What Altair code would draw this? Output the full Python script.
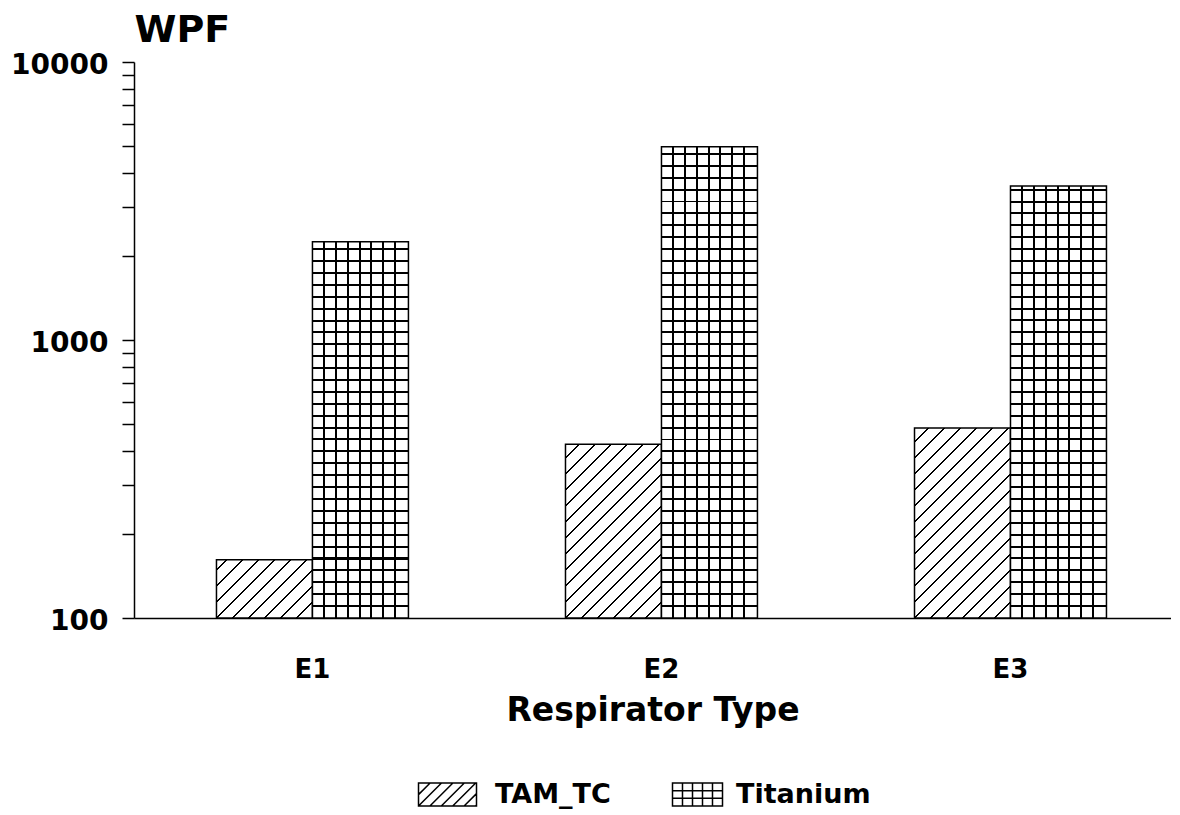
import math
import altair as alt
import pandas as pd

# ---------------- data ----------------
categories = ["E1", "E2", "E3"]
series_names = ["TAM_TC", "Titanium"]
tam_tc = [162, 422, 482]
titanium = [2257, 4958, 3581]
y_ticks = [100, 200, 300, 400, 500, 600, 700, 800, 900,
           1000, 2000, 3000, 4000, 5000, 6000, 7000, 8000, 9000, 10000]
y_labels = [100, 1000, 10000]

rows = []
for c, a, b in zip(categories, tam_tc, titanium):
    rows.append({"type": c, "series": "TAM_TC", "wpf": a})
    rows.append({"type": c, "series": "Titanium", "wpf": b})
df = pd.DataFrame(rows)

# ---------------- layout / style ----------------
FONT = "DejaVu Sans"
W, H = 1037, 556
Y_MIN, Y_MAX = 100, 10000
P_IN, P_OUT, ALIGN = 0.45, 0.2106, 0.561
step = W / (len(categories) - P_IN + 2 * P_OUT)
bar_w = step * (1 - P_IN) / 2


def bar_h(v):
    return H * math.log10(v / Y_MIN) / math.log10(Y_MAX / Y_MIN)


def stripe_stops(positions, half, fg, bg):
    stops = [{"offset": 0, "color": bg}]
    for p in sorted(positions):
        a = max(0.0, p - half)
        b = min(1.0, p + half)
        stops += [{"offset": a, "color": bg}, {"offset": a, "color": fg},
                  {"offset": b, "color": fg}, {"offset": b, "color": bg}]
    stops.append({"offset": 1, "color": bg})
    return stops


def diag_gradient(h, w=bar_w, spacing=16.0, lw=1.6):
    total = w + h
    pos = []
    for j in range(-100, 100):
        s = h + j * spacing
        if 0 < s < total:
            pos.append(s / total)
    c = total * w / (w * w + h * h)
    half = (lw * math.sqrt(2) / 2) / total
    return {"gradient": "linear", "x1": 0, "y1": 0, "x2": c, "y2": c * h / w,
            "stops": stripe_stops(pos, half, "black", "white")}


def vert_gradient(w=bar_w, spacing=11.8, lw=2.0):
    pos = []
    k = 1
    while k * spacing < w - 2:
        pos.append(k * spacing / w)
        k += 1
    return {"gradient": "linear", "x1": 0, "y1": 0, "x2": 1, "y2": 0,
            "stops": stripe_stops(pos, (lw / 2) / w, "black", "white")}


def horiz_gradient(h, spacing=11.9, lw=2.0):
    pos = []
    k = 1
    while k * spacing < h - 2:
        pos.append(1 - k * spacing / h)
        k += 1
    return {"gradient": "linear", "x1": 0, "y1": 0, "x2": 0, "y2": 1,
            "stops": stripe_stops(pos, (lw / 2) / h, "black", "transparent")}


# legend swatch paths (unit = 12 px)
SY = 11.5 / 12


def rect_path(xl, xr):
    return f"M{xl:.3f},{-SY:.3f}H{xr:.3f}V{SY:.3f}H{xl:.3f}Z"


def diag_path(xl=-28 / 12, xr=30 / 12, d=0.95):
    parts = [rect_path(xl, xr)]
    y0, y1 = -SY, SY
    base = xl + y1
    for j in range(-20, 20):
        s = base + j * d
        xa = max(xl, s - y1)
        xb = min(xr, s - y0)
        if xb - xa > 0.05:
            parts.append(f"M{xa:.3f},{s - xa:.3f}L{xb:.3f},{s - xb:.3f}")
    return "".join(parts)


def grid_path(xl=-15 / 12, xr=35 / 12, nx=5, ny=3):
    parts = [rect_path(xl, xr)]
    for i in range(1, nx):
        x = xl + i * (xr - xl) / nx
        parts.append(f"M{x:.3f},{-SY:.3f}V{SY:.3f}")
    for i in range(1, ny):
        y = -SY + i * 2 * SY / ny
        parts.append(f"M{xl:.3f},{y:.3f}H{xr:.3f}")
    return "".join(parts)


label_test = " || ".join(f"datum.value == {v}" for v in y_labels)

x_enc = alt.X(
    "type:N",
    scale=alt.Scale(domain=categories, paddingInner=P_IN, paddingOuter=P_OUT, align=ALIGN),
    axis=alt.Axis(
        title="Respirator Type", labelAngle=0, ticks=False,
        domainColor="black", domainWidth=1.5,
        labelFont=FONT, labelFontSize=26, labelFontWeight="bold", labelColor="black",
        labelPadding=38, labelBaseline="top",
        titleFont=FONT, titleFontSize=33, titleFontWeight="bold", titleColor="black",
        titlePadding=12,
    ),
)
xoff_enc = alt.XOffset("series:N", scale=alt.Scale(domain=series_names, paddingInner=0, paddingOuter=0))
y_enc = alt.Y(
    "wpf:Q",
    scale=alt.Scale(type="log", domain=[Y_MIN, Y_MAX]),
    axis=alt.Axis(
        values=y_ticks,
        labelExpr=f"({label_test}) ? format(datum.value, 'd') : ''",
        labelOverlap=False, labelFlush=False,
        grid=False, tickSize=12, tickWidth=1.5, tickColor="black",
        domainColor="black", domainWidth=1.5,
        labelFont=FONT, labelFontSize=28, labelFontWeight="bold", labelColor="black",
        labelPadding=14, labelBaseline="middle", labelOffset=3,
        title="WPF", titleAngle=0, titleAlign="left", titleBaseline="alphabetic",
        titleX=0, titleY=-21,
        titleFont=FONT, titleFontSize=38, titleFontWeight="bold", titleColor="black",
    ),
)

base = alt.Chart(df).encode(x=x_enc, xOffset=xoff_enc, y=y_enc, y2=alt.datum(Y_MIN))

layers = []
# TAM_TC: diagonal hatching
for c, v in zip(categories, tam_tc):
    layers.append(
        base.transform_filter((alt.datum.type == c) & (alt.datum.series == "TAM_TC"))
        .mark_bar(fill=diag_gradient(bar_h(v)), stroke="black", strokeWidth=1.5)
    )
# Titanium: grid (vertical stripes + horizontal stripes)
layers.append(
    base.transform_filter(alt.datum.series == "Titanium")
    .mark_bar(fill=vert_gradient(), strokeWidth=0)
)
for c, v in zip(categories, titanium):
    layers.append(
        base.transform_filter((alt.datum.type == c) & (alt.datum.series == "Titanium"))
        .mark_bar(fill=horiz_gradient(bar_h(v)), stroke="black", strokeWidth=1.5)
    )
# invisible points that carry the legend
layers.append(
    alt.Chart(df).mark_point(opacity=0).encode(
        x=alt.X("type:N"), xOffset=alt.XOffset("series:N"), y=alt.Y("wpf:Q"),
        shape=alt.Shape(
            "series:N",
            scale=alt.Scale(domain=series_names, range=[diag_path(), grid_path()]),
            legend=alt.Legend(
                title=None, orient="none", legendX=299, legendY=719,
                direction="horizontal", columns=2, columnPadding=58,
                symbolSize=576, symbolStrokeColor="black", symbolFillColor="white",
                symbolStrokeWidth=1.5, symbolOpacity=1,
                labelFont=FONT, labelFontSize=27, labelFontWeight="bold",
                labelColor="black", labelOffset=35, labelBaseline="middle",
                padding=0,
            ),
        ),
    )
)

chart = (
    alt.layer(*layers)
    .properties(width=W, height=H, padding={"left": 2, "top": 3, "right": 0, "bottom": 0})
    .configure(background="white")
    .configure_view(stroke=None)
)

chart.save("out.html", embed_options={"renderer": "svg", "actions": False})
